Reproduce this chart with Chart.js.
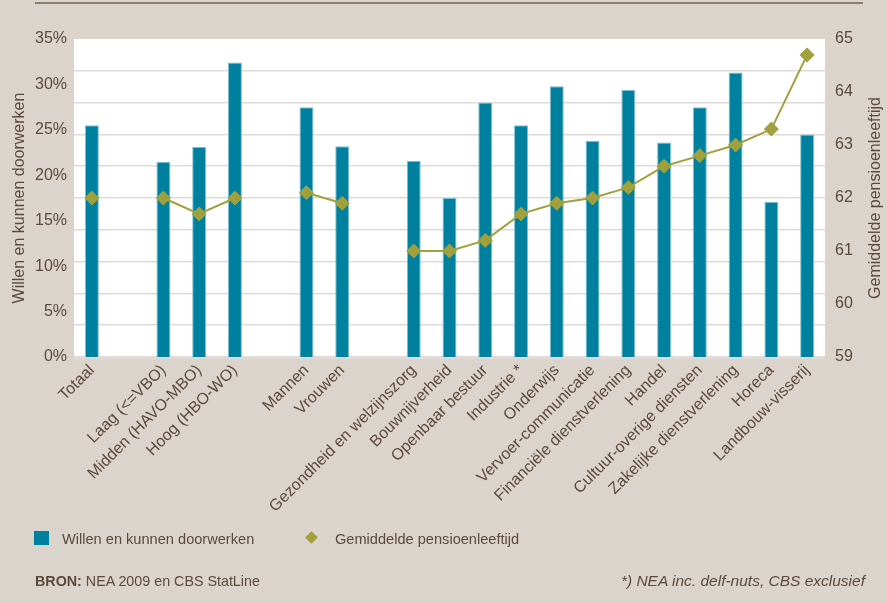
<!DOCTYPE html>
<html>
<head>
<meta charset="utf-8">
<script src="https://cdn.jsdelivr.net/npm/chart.js@4"></script>
<style>
  html, body { margin: 0; padding: 0; background: #dbd4cc; }
  body { width: 887px; height: 603px; position: relative; overflow: hidden;
         font-family: "Liberation Sans", Arial, sans-serif; color: #5b4a3a; }
  #c { position: absolute; left: 0; top: 0; }
  .topline { position: absolute; left: 35px; top: 2px; width: 828px; height: 2px; background: #8b7d6b; }
  .lg { position: absolute; font-size: 14.6px; line-height: 18px; white-space: nowrap; }
  .sq { position: absolute; left: 34px; top: 531px; width: 15px; height: 14px; background: #00809f; }
  .dm { position: absolute; left: 307px; top: 533px; width: 9px; height: 9px; background: #a0a03c; transform: rotate(45deg); }
  .ft { position: absolute; line-height: 18px; white-space: nowrap; top: 572px; }
</style>
</head>
<body>
<div class="topline"></div>
<canvas id="c" width="887" height="603"></canvas>
<div class="sq"></div>
<div class="lg" style="left:62px; top:530px;">Willen en kunnen doorwerken</div>
<div class="dm"></div>
<div class="lg" style="left:335px; top:530px;">Gemiddelde pensioenleeftijd</div>
<div class="ft" style="left:35px; font-size:14.3px;"><b>BRON:</b> NEA 2009 en CBS StatLine</div>
<div class="ft" style="right:22px; font-size:15.5px; font-style:italic;">*) NEA inc. delf-nuts, CBS exclusief</div>
<script>
const categories = [
  'Totaal', '',
  'Laag (<=VBO)', 'Midden (HAVO-MBO)', 'Hoog (HBO-WO)', '',
  'Mannen', 'Vrouwen', '',
  'Gezondheid en welzijnszorg', 'Bouwnijverheid', 'Openbaar bestuur', 'Industrie *',
  'Onderwijs', 'Vervoer-communicatie', 'Financiële dienstverlening', 'Handel',
  'Cultuur-overige diensten', 'Zakelijke dienstverlening', 'Horeca', 'Landbouw-visserij'
];
const willenKunnen = [25.5, null, 21.5, 23.1, 32.4, null, 27.5, 23.2, null,
  21.6, 17.5, 28.0, 25.5, 29.8, 23.8, 29.4, 23.6, 27.5, 31.3, 17.1, 24.5];
const pensioenLeeftijd = [62.0, null, 62.0, 61.7, 62.0, null, 62.1, 61.9, null,
  61.0, 61.0, 61.2, 61.7, 61.9, 62.0, 62.2, 62.6, 62.8, 63.0, 63.3, 64.7];
const leftTicks = [0, 5, 10, 15, 20, 25, 30, 35];
const rightTicks = [59, 60, 61, 62, 63, 64, 65];
const seriesNames = ['Willen en kunnen doorwerken', 'Gemiddelde pensioenleeftijd'];

const TXT = '#5b4a3a';
const FONT = "'Liberation Sans', Arial, sans-serif";

const plotBg = {
  id: 'plotBg',
  beforeDraw(chart) {
    const ctx = chart.ctx, a = chart.chartArea;
    ctx.save();
    ctx.fillStyle = '#ffffff';
    ctx.fillRect(a.left, a.top, a.right - a.left, a.bottom - a.top);
    ctx.restore();
  }
};

const rightTitle = {
  id: 'rightTitle',
  afterDraw(chart) {
    const ctx = chart.ctx, a = chart.chartArea;
    ctx.save();
    ctx.translate(876, (a.top + a.bottom) / 2);
    ctx.rotate(-Math.PI / 2);
    ctx.fillStyle = TXT;
    ctx.font = "16px " + FONT;
    ctx.textAlign = 'center';
    ctx.textBaseline = 'middle';
    ctx.fillText(seriesNames[1], 0, 0);
    ctx.restore();
  }
};

new Chart(document.getElementById('c'), {
  data: {
    labels: categories,
    datasets: [
      {
        type: 'line', label: seriesNames[1], data: pensioenLeeftijd, yAxisID: 'y2', order: 0,
        borderColor: '#a0a03c', borderWidth: 2, spanGaps: false,
        pointStyle: 'rectRot', pointRadius: 7, pointHoverRadius: 7,
        pointBackgroundColor: '#a0a03c', pointBorderColor: '#a0a03c', pointBorderWidth: 1
      },
      {
        type: 'bar', label: seriesNames[0], data: willenKunnen, yAxisID: 'y', order: 1,
        backgroundColor: '#00809f', borderColor: '#7cc0d4', borderWidth: 1,
        barPercentage: 0.39, categoryPercentage: 1
      }
    ]
  },
  options: {
    responsive: false, animation: false, devicePixelRatio: 1,
    layout: { padding: { top: 39, left: 0, right: 0, bottom: 0 } },
    plugins: { legend: { display: false }, tooltip: { enabled: false } },
    scales: {
      x: {
        grid: { display: false, drawTicks: false }, border: { display: false },
        ticks: { color: TXT, font: { family: FONT, size: 16 }, minRotation: 45, maxRotation: 45,
                 autoSkip: false, padding: 4 },
        afterFit: s => { s.height = 246; }
      },
      y: {
        position: 'left', min: 0, max: 35,
        grid: { display: false, drawTicks: false }, border: { display: false },
        afterBuildTicks: s => { s.ticks = leftTicks.map(v => ({ value: v })); },
        ticks: { color: TXT, font: { family: FONT, size: 16 }, padding: 7, callback: v => v + '%' },
        title: { display: true, text: seriesNames[0], color: TXT, font: { family: FONT, size: 16 },
                 padding: { top: 10, bottom: 0 } },
        afterFit: s => { s.width = 74; }
      },
      g: {
        position: 'left', min: 0, max: 10, display: true,
        ticks: { display: false, stepSize: 1 },
        grid: {
          color: c => (c.tick && c.tick.value === 10) ? 'rgba(0,0,0,0)' : '#e0dbd6',
          lineWidth: c => (c.tick && c.tick.value === 0) ? 3 : 1.5,
          drawTicks: false
        },
        border: { display: false },
        afterFit: s => { s.width = 0; }
      },
      y2: {
        position: 'right', min: 59, max: 65,
        grid: { display: false, drawTicks: false }, border: { display: false },
        afterBuildTicks: s => { s.ticks = rightTicks.map(v => ({ value: v })); },
        ticks: { color: TXT, font: { family: FONT, size: 16 }, padding: 10 },
        afterFit: s => { s.width = 62; }
      }
    }
  },
  plugins: [plotBg, rightTitle]
});
</script>
</body>
</html>
